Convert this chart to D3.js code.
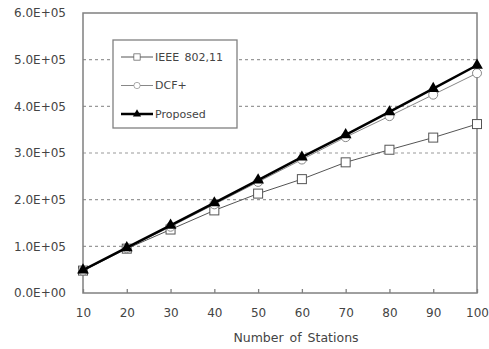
<!DOCTYPE html>
<html>
<head>
<meta charset="utf-8">
<script src="https://cdn.jsdelivr.net/npm/d3@7"></script>
<style>
  body { margin: 0; background: #fff; }
  text { font-family: "DejaVu Sans", sans-serif; fill: #444; }
</style>
</head>
<body>
<svg id="chart" width="489" height="349"></svg>
<script>
// data
var stations = [10, 20, 30, 40, 50, 60, 70, 80, 90, 100];
var ieee     = [0.48e5, 0.95e5, 1.36e5, 1.77e5, 2.13e5, 2.44e5, 2.80e5, 3.07e5, 3.33e5, 3.62e5];
var dcfPlus  = [0.48e5, 0.96e5, 1.42e5, 1.90e5, 2.38e5, 2.86e5, 3.34e5, 3.79e5, 4.25e5, 4.71e5];
var proposed = [0.49e5, 0.97e5, 1.45e5, 1.93e5, 2.42e5, 2.91e5, 3.39e5, 3.88e5, 4.38e5, 4.88e5];
var yTicks   = [0, 1e5, 2e5, 3e5, 4e5, 5e5, 6e5];
var seriesNames = ["IEEE 802,11", "DCF+", "Proposed"];

var margin = {top: 13, right: 12, bottom: 56, left: 83},
    width = 489 - margin.left - margin.right,
    height = 349 - margin.top - margin.bottom;

var svg = d3.select("#chart");
var g = svg.append("g")
    .attr("transform", "translate(" + margin.left + "," + margin.top + ")");

var x = d3.scaleLinear().domain([10, 100]).range([0, width]);
var y = d3.scaleLinear().domain([0, 6e5]).range([height, 0]);

// dashed grid lines
g.selectAll(".grid")
    .data(yTicks.filter(function(d) { return d > 0 && d < 6e5; }))
    .enter().append("line")
    .attr("x1", 0).attr("x2", width)
    .attr("y1", function(d) { return y(d); })
    .attr("y2", function(d) { return y(d); })
    .attr("stroke", "#999")
    .attr("stroke-width", 1.2)
    .attr("stroke-dasharray", "3,3");

// plot frame
g.append("rect")
    .attr("width", width).attr("height", height)
    .attr("fill", "none")
    .attr("stroke", "#808080")
    .attr("stroke-width", 1.5);

// y axis labels
var fmt = function(d) { return (d / 1e5).toFixed(1) + "E+0" + (d === 0 ? "0" : "5"); };
g.selectAll(".ylab")
    .data(yTicks)
    .enter().append("text")
    .attr("x", -17)
    .attr("y", function(d) { return y(d); })
    .attr("dy", "0.35em")
    .attr("text-anchor", "end")
    .attr("font-size", 12)
    .text(fmt);

// x axis ticks and labels
var xAxis = d3.axisBottom(x).tickValues(stations).tickSize(-4).tickPadding(15);
var xa = g.append("g")
    .attr("transform", "translate(0," + height + ")")
    .call(xAxis);
xa.select(".domain").remove();
xa.selectAll(".tick line").attr("stroke", "#808080").attr("stroke-width", 1.3);
xa.selectAll(".tick text")
    .attr("font-size", 12)
    .attr("font-family", "DejaVu Sans, sans-serif")
    .attr("fill", "#444");

svg.append("text")
    .attr("x", 296)
    .attr("y", 342)
    .attr("text-anchor", "middle")
    .attr("font-size", 12.5)
    .attr("word-spacing", 2)
    .text("Number of Stations");

// series
var series = [
    {name: seriesNames[0], values: ieee,     color: "#555", width: 1,   marker: "square"},
    {name: seriesNames[1], values: dcfPlus,  color: "#888", width: 1,   marker: "circle"},
    {name: seriesNames[2], values: proposed, color: "#000", width: 2.5, marker: "triangle"}
];

var line = d3.line()
    .x(function(d, i) { return x(stations[i]); })
    .y(function(d) { return y(d); });

function drawMarker(sel, s) {
    if (s.marker === "square") {
        sel.append("rect")
            .attr("x", -4.5).attr("y", -4.5).attr("width", 9).attr("height", 9)
            .attr("fill", "#fff").attr("stroke", s.color).attr("stroke-width", 1);
    } else if (s.marker === "circle") {
        sel.append("circle")
            .attr("r", 4.5)
            .attr("fill", "#fff").attr("stroke", s.color).attr("stroke-width", 1);
    } else {
        sel.append("path")
            .attr("d", d3.symbol().type(d3.symbolTriangle).size(60)())
            .attr("fill", s.color);
    }
}

series.forEach(function(s) {
    g.append("path")
        .datum(s.values)
        .attr("d", line)
        .attr("fill", "none")
        .attr("stroke", s.color)
        .attr("stroke-width", s.width);
    s.values.forEach(function(v, i) {
        var m = g.append("g")
            .attr("transform", "translate(" + x(stations[i]) + "," + y(v) + ")");
        drawMarker(m, s);
    });
});

// legend
var legend = svg.append("g").attr("transform", "translate(113,40)");
legend.append("rect")
    .attr("width", 124).attr("height", 88)
    .attr("fill", "#fff")
    .attr("stroke", "#808080")
    .attr("stroke-width", 1.3);

series.forEach(function(s, i) {
    var row = legend.append("g").attr("transform", "translate(0," + (17 + i * 28.5) + ")");
    row.append("line")
        .attr("x1", 8).attr("x2", 40)
        .attr("stroke", s.color)
        .attr("stroke-width", s.width);
    var m = row.append("g");
    drawMarker(m, {color: s.color, marker: s.marker});
    m.attr("transform", "translate(24,0) scale(0.7)");
    row.append("text")
        .attr("x", 42).attr("dy", "0.35em")
        .attr("font-size", 11)
        .attr("word-spacing", 2)
        .attr("fill", "#333")
        .text(s.name);
});
</script>
</body>
</html>
